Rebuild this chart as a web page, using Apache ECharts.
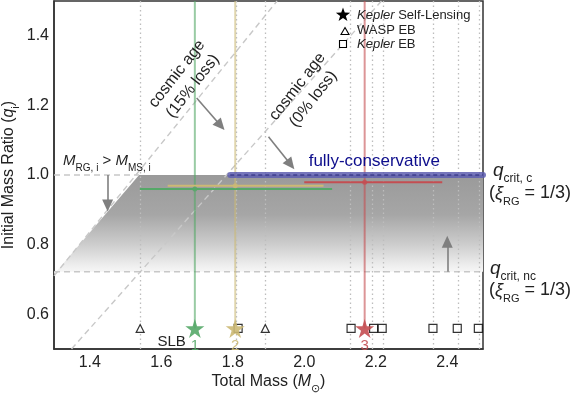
<!DOCTYPE html>
<html>
<head>
<meta charset="utf-8">
<script src="https://cdn.jsdelivr.net/npm/echarts@6/dist/echarts.min.js"></script>
<style>
  html, body { margin: 0; padding: 0; background: #fff; }
  #chart { width: 581px; height: 395px; }
</style>
</head>
<body>
<div id="chart"></div>
<script>
// 数据
const xTicks = [1.4, 1.6, 1.8, 2.0, 2.2, 2.4]
const yTicks = [0.6, 0.8, 1.0, 1.2, 1.4]

// Kepler 自透镜双星 (SLB 1,2,3)
const slbNames = ['1', '2', '3']
const slbMass = [1.694, 1.807, 2.169]
const slbMarkQ = [0.559, 0.559, 0.559]
const slbColors = ['#55a868', '#ccb974', '#c44e52']
// 初始质量比 误差棒
const slbQ = [0.960, 0.969, 0.979]
const slbLo = [1.540, 1.618, 2.000]
const slbHi = [2.078, 2.054, 2.386]

// 食双星
const waspMass = [1.541, 1.891]
const keplerMass = [1.815, 2.131, 2.194, 2.218, 2.360, 2.428, 2.487]
const ebQ = 0.559

// 临界质量比
const qCritC = 1.0
const qCritNc = 0.722

// 灰色区域
const regionM = [1.3, 1.538, 2.5, 2.5, 1.3]
const regionQ = [0.715, 1.0, 1.0, 0.722, 0.722]

// cosmic age 线
const age15M = [1.3, 1.924]
const age15Q = [0.71, 1.5]
const age0M = [1.349, 2.216]
const age0Q = [0.5, 1.5]

// fully-conservative
const consM = [1.793, 2.5]

const FONT = '"Liberation Sans", Arial, sans-serif'
const STAR = 'path://M50,0L61.2,34.5L97.6,34.5L68.2,55.9L79.4,90.5L50,69.1L20.6,90.5L31.8,55.9L2.4,34.5L38.8,34.5Z'
const isTick = (ticks, v) => ticks.some(t => Math.abs(t - v) < 1e-6)

const chart = echarts.init(document.querySelector('#chart'))

const series = []

// 灰色渐变区域
series.push({
  type: 'custom',
  silent: true,
  z: 1,
  data: [[regionM[0], regionQ[0]]],
  renderItem: (params, api) => ({
    type: 'polygon',
    shape: { points: regionM.map((m, i) => api.coord([m, regionQ[i]])) },
    style: {
      fill: new echarts.graphic.LinearGradient(0, 0, 0, 1, [
        { offset: 0, color: '#9a9a9a' },
        { offset: 0.4, color: '#a6a6a6' },
        { offset: 0.7, color: '#cdcdcd' },
        { offset: 0.9, color: '#ececec' },
        { offset: 1, color: '#fafafa' }
      ])
    }
  })
})

// 虚线
const dashed = (data) => ({
  type: 'line', data, silent: true, z: 3, showSymbol: false, symbol: 'none',
  lineStyle: { color: '#c8c8c8', width: 1.4, type: [6, 4] }
})
series.push(dashed(age15M.map((m, i) => [m, age15Q[i]])))
series.push(dashed(age0M.map((m, i) => [m, age0Q[i]])))
series.push(dashed([[1.3, qCritC], [regionM[1], qCritC]]))
series.push(dashed([[1.3, qCritNc], [2.5, qCritNc]]))

// 点状竖线
series.push({
  type: 'line', data: [], silent: true, z: 2,
  markLine: {
    silent: true, symbol: 'none', animation: false,
    label: { show: false },
    lineStyle: { color: '#bdbdbd', type: [1.5, 3], width: 1.3 },
    data: waspMass.concat(keplerMass).map(m => ({ xAxis: m }))
  }
})

// 彩色竖线 + 误差棒
slbMass.forEach((m, i) => {
  series.push({
    type: 'line', silent: true, z: 4, symbol: 'none',
    data: [[m, slbMarkQ[i]], [m, 1.5]],
    lineStyle: { color: slbColors[i], width: 2, opacity: 0.6 }
  })
  series.push({
    type: 'line', silent: true, z: 5, symbol: 'none',
    data: [[slbLo[i], slbQ[i]], [slbHi[i], slbQ[i]]],
    lineStyle: { color: slbColors[i], width: 2 }
  })
  series.push({
    type: 'scatter', silent: true, z: 6, symbolSize: 5,
    data: [[m, slbQ[i]]],
    itemStyle: { color: slbColors[i] }
  })
})

// fully-conservative
series.push({
  type: 'line', silent: true, z: 5, symbol: 'none',
  data: consM.map(m => [m, qCritC]),
  lineStyle: { color: '#5e5eb0', width: 6, opacity: 0.85, cap: 'round' }
})
series.push({
  type: 'line', silent: true, z: 6, symbol: 'none',
  data: consM.map(m => [m, qCritC]),
  lineStyle: { color: '#26267a', width: 1.2, type: [4, 3] }
})

// 箭头
const arrowSegs = [
  [1.699, 1.221, 1.766, 1.142],
  [1.900, 1.110, 1.962, 1.030],
  [1.450, 1.0, 1.450, 0.912],
  [2.400, 0.722, 2.400, 0.808]
]
series.push({
  type: 'line', data: [], silent: true, z: 6,
  markLine: {
    silent: true, animation: false,
    symbol: ['none', 'triangle'], symbolSize: [11, 12],
    label: { show: false },
    lineStyle: { color: '#7f7f7f', width: 1.6, type: 'solid' },
    itemStyle: { color: '#7f7f7f' },
    data: arrowSegs.map(a => [{ coord: [a[0], a[1]] }, { coord: [a[2], a[3]] }])
  }
})

// 食双星
series.push({
  name: 'WASP EB', type: 'scatter', z: 7, symbol: 'triangle', symbolSize: 8,
  data: waspMass.map(m => [m, ebQ]),
  itemStyle: { color: '#fff', borderColor: '#000', borderWidth: 1.2 }
})
series.push({
  name: 'Kepler EB', type: 'scatter', z: 7, symbol: 'rect', symbolSize: 8,
  data: keplerMass.map(m => [m, ebQ]),
  itemStyle: { color: '#fff', borderColor: '#000', borderWidth: 1.2 }
})

// SLB 星标
series.push({
  name: 'Kepler Self-Lensing', type: 'scatter', z: 8, symbol: STAR, symbolSize: 19,
  data: slbMass.map((m, i) => ({
    value: [m, slbMarkQ[i]],
    itemStyle: { color: slbColors[i], opacity: 0.9 },
    label: { show: true, position: 'bottom', distance: 0, formatter: slbNames[i], color: slbColors[i], fontSize: 15, fontFamily: FONT }
  }))
})

const nameRich = {
  n: { fontSize: 16, fontFamily: FONT, color: '#222', lineHeight: 20, verticalAlign: 'top' },
  i: { fontSize: 16, fontFamily: FONT, fontStyle: 'italic', color: '#222', lineHeight: 20, verticalAlign: 'top' },
  s: { fontSize: 11, fontFamily: FONT, color: '#222', lineHeight: 10, verticalAlign: 'bottom' }
}

const option = {
  animation: false,
  grid: {
    left: 54, right: 98, top: 1, bottom: 46,
    containLabel: false, outerBoundsMode: 'none',
    show: true, borderColor: '#333', borderWidth: 1.5
  },
  xAxis: {
    type: 'value', min: 1.3, max: 2.5, interval: 0.1,
    name: '{n|Total Mass (}{i|M}{s|⊙}{n|)}', nameLocation: 'middle', nameGap: 25, nameMoveOverlap: false,
    nameTextStyle: { rich: nameRich },
    axisLine: { show: true, lineStyle: { color: '#333', width: 1.5 } },
    axisTick: { show: false },
    splitLine: { show: false },
    axisLabel: { fontSize: 16, fontFamily: FONT, color: '#222', margin: 6, formatter: v => isTick(xTicks, v) ? v.toFixed(1) : '' }
  },
  yAxis: {
    type: 'value', min: 0.5, max: 1.5, interval: 0.1,
    name: '{n|Initial Mass Ratio (}{i|q}{s|i}{n|)}', nameLocation: 'middle', nameGap: 33, nameMoveOverlap: false,
    nameTextStyle: { rich: nameRich },
    axisLine: { show: true, lineStyle: { color: '#333', width: 1.5 } },
    axisTick: { show: false },
    splitLine: { show: false },
    axisLabel: { fontSize: 16, fontFamily: FONT, color: '#222', margin: 5, formatter: v => isTick(yTicks, v) ? v.toFixed(1) : '' }
  },
  series
}
chart.setOption(option)

// 文字注释
const px = (m, q) => chart.convertToPixel({ gridIndex: 0 }, [m, q])
const rot = 52 * Math.PI / 180
const txt = (pos, text, extra) => ({
  type: 'text', x: pos[0], y: pos[1], z: 100, silent: true,
  style: Object.assign({
    text, font: '16px ' + FONT, fill: '#222',
    align: 'center', verticalAlign: 'middle', textAlign: 'center', textVerticalAlign: 'middle'
  }, extra || {})
})
const subRich = (size, sub) => ({
  n: { fontSize: size, fontFamily: FONT, fill: '#222', lineHeight: size + 5, verticalAlign: 'top' },
  i: { fontSize: size, fontFamily: FONT, fontStyle: 'italic', fill: '#222', lineHeight: size + 5, verticalAlign: 'top' },
  s: { fontSize: sub, fontFamily: FONT, fill: '#222', lineHeight: sub, verticalAlign: 'bottom' }
})

const a15 = px(1.666, 1.273)
const a0 = px(2.003, 1.236)
const mrg = px(1.448, 1.034)
const fc = px(2.196, 1.040)
const slb = px(1.629, 0.521)

const graphic = [
  Object.assign(txt(a15, 'cosmic age\n(15% loss)', { lineHeight: 20 }), { rotation: rot }),
  Object.assign(txt(a0, 'cosmic age\n(0% loss)', { lineHeight: 20 }), { rotation: rot }),
  txt(mrg, '{i|M}{s|RG, i}{n| > }{i|M}{s|MS, i}', { rich: subRich(15, 10) }),
  txt(fc, 'fully-conservative', { font: '17px ' + FONT, fill: '#0d0d8c' }),
  txt(slb, 'SLB', { font: '15px ' + FONT }),
  txt([493, 173], '{i|q}{s|crit, c}', { rich: subRich(19, 12), align: 'left', textAlign: 'left' }),
  txt([530, 196], '{n|(}{i|ξ}{s|RG}{n| = 1/3)}', { rich: subRich(18, 11) }),
  txt([490, 271], '{i|q}{s|crit, nc}', { rich: subRich(19, 12), align: 'left', textAlign: 'left' }),
  txt([530, 293], '{n|(}{i|ξ}{s|RG}{n| = 1/3)}', { rich: subRich(18, 11) })
]

// 图例
const starPts = (cx, cy, r) => {
  const pts = []
  for (let k = 0; k < 10; k++) {
    const ang = -Math.PI / 2 + k * Math.PI / 5
    const rr = k % 2 === 0 ? r : r * 0.4
    pts.push([cx + rr * Math.cos(ang), cy + rr * Math.sin(ang)])
  }
  return pts
}
graphic.push({ type: 'polygon', shape: { points: starPts(343, 15, 7.5) }, style: { fill: '#000' }, z: 100 })
graphic.push({ type: 'polygon', shape: { points: [[345, 27.5], [349, 34.5], [341, 34.5]] }, style: { fill: '#fff', stroke: '#000', lineWidth: 1.1 }, z: 100 })
graphic.push({ type: 'rect', shape: { x: 339.5, y: 40.5, width: 7, height: 7 }, style: { fill: '#fff', stroke: '#000', lineWidth: 1.1 }, z: 100 })
const legRich = {
  i: { fontSize: 13, fontFamily: FONT, fontStyle: 'italic', fill: '#222' },
  n: { fontSize: 13, fontFamily: FONT, fill: '#222' }
}
graphic.push(txt([357, 15], '{i|Kepler}{n| Self-Lensing}', { rich: legRich, align: 'left', textAlign: 'left' }))
graphic.push(txt([357, 30], '{n|WASP EB}', { rich: legRich, align: 'left', textAlign: 'left' }))
graphic.push(txt([357, 44], '{i|Kepler}{n| EB}', { rich: legRich, align: 'left', textAlign: 'left' }))

chart.setOption({ graphic })
</script>
</body>
</html>
